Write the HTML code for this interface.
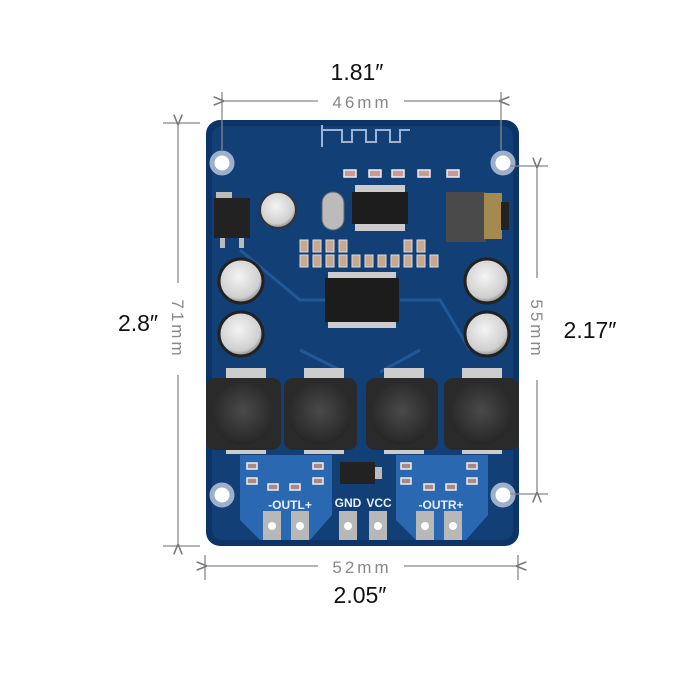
<!DOCTYPE html>
<html><head><meta charset="utf-8"><style>
html,body{margin:0;padding:0;background:#fff;width:700px;height:700px;overflow:hidden}
svg{display:block}
.big{font-family:"Liberation Sans",sans-serif;font-size:23px;fill:#111}
.mm{font-family:"Liberation Sans",sans-serif;font-size:17px;fill:#888;letter-spacing:3px}
.w{font-family:"Liberation Sans",sans-serif;font-size:12px;fill:#e8eef8;font-weight:bold}
</style></head><body>
<svg width="700" height="700" viewBox="0 0 700 700" xmlns="http://www.w3.org/2000/svg">
<defs>
<radialGradient id="cap" cx="0.45" cy="0.4" r="0.6"><stop offset="0" stop-color="#f4f4f4"/><stop offset="0.8" stop-color="#cfcfcf"/><stop offset="1" stop-color="#888"/></radialGradient>
<radialGradient id="ind" cx="0.5" cy="0.45" r="0.55"><stop offset="0" stop-color="#4a4a4a"/><stop offset="1" stop-color="#262626"/></radialGradient>
<marker id="ar" viewBox="0 0 10 10" refX="0" refY="5" markerWidth="8" markerHeight="8" orient="auto-start-reverse"><path d="M10,1 L0,5 L10,9" fill="none" stroke="#777" stroke-width="1.5"/></marker>
</defs>
<!-- board -->
<rect x="206" y="120" width="313" height="426" rx="14" fill="#0d3466"/>
<rect x="212" y="126" width="301" height="414" rx="10" fill="#164a86" opacity="0.5"/>
<!-- antenna -->
<path d="M322,125 v22 M322,130 h20 v12 h10 v-12 h14 v12 h10 v-12 h14 v12 h10 v-12 h10" fill="none" stroke="#9fb4d4" stroke-width="2"/>
<!-- traces -->
<g stroke="#2c69b0" stroke-width="3" fill="none" opacity="0.6">
<path d="M240,250 L300,300 L330,300"/><path d="M400,300 L440,300 L470,350"/><path d="M300,350 L340,370"/><path d="M420,350 L380,372"/>
</g>
<!-- holes -->
<g fill="#fff" stroke="#9cb0cc" stroke-width="5">
<circle cx="222" cy="163" r="10"/><circle cx="503" cy="163" r="10"/><circle cx="222" cy="495" r="10"/><circle cx="503" cy="495" r="10"/>
</g>
<!-- regulator -->
<rect x="216" y="192" width="16" height="8" fill="#bbb"/>
<rect x="214" y="198" width="36" height="40" fill="#222"/>
<rect x="220" y="238" width="5" height="10" fill="#bbb"/><rect x="239" y="238" width="5" height="10" fill="#bbb"/>
<!-- cap 470 -->
<circle cx="278" cy="210" r="18" fill="url(#cap)" stroke="#333" stroke-width="2"/>
<!-- crystal -->
<rect x="322" y="192" width="22" height="38" rx="11" fill="#bbb" stroke="#666"/>
<!-- top IC -->
<rect x="355" y="185" width="50" height="8" fill="#ccc"/><rect x="355" y="223" width="50" height="8" fill="#ccc"/>
<rect x="352" y="192" width="56" height="32" fill="#1d1d1d"/>
<g fill="#c99" stroke="#eee" stroke-width="1.5">
<rect x="344" y="170" width="12" height="7"/><rect x="369" y="170" width="12" height="7"/><rect x="392" y="170" width="12" height="7"/><rect x="418" y="170" width="12" height="7"/><rect x="447" y="170" width="12" height="7"/>
</g>
<!-- jack -->
<rect x="446" y="192" width="40" height="50" fill="#4a4a4a"/>
<rect x="484" y="193" width="18" height="46" fill="#a58a50"/>
<rect x="501" y="202" width="8" height="28" fill="#222"/>
<!-- resistor row -->
<g fill="#c8a890" stroke="#ddd" stroke-width="1">
<rect x="300" y="255" width="8" height="12"/><rect x="313" y="255" width="8" height="12"/><rect x="326" y="255" width="8" height="12"/><rect x="339" y="255" width="8" height="12"/><rect x="352" y="255" width="8" height="12"/><rect x="365" y="255" width="8" height="12"/><rect x="378" y="255" width="8" height="12"/><rect x="391" y="255" width="8" height="12"/><rect x="404" y="255" width="8" height="12"/><rect x="417" y="255" width="8" height="12"/><rect x="430" y="255" width="8" height="12"/>
<rect x="300" y="240" width="8" height="12"/><rect x="313" y="240" width="8" height="12"/><rect x="326" y="240" width="8" height="12"/><rect x="339" y="240" width="8" height="12"/><rect x="404" y="240" width="8" height="12"/><rect x="417" y="240" width="8" height="12"/>
</g>
<!-- 220 caps -->
<g stroke="#222" stroke-width="3" fill="url(#cap)">
<circle cx="241" cy="281" r="22"/><circle cx="241" cy="334" r="22"/><circle cx="487" cy="281" r="22"/><circle cx="487" cy="334" r="22"/>
</g>
<!-- main IC -->
<rect x="328" y="272" width="68" height="56" fill="#ccc"/>
<rect x="325" y="278" width="74" height="44" fill="#1c1c1c"/>
<!-- inductors -->
<g>
<rect x="226" y="368" width="40" height="10" fill="#ccc"/><rect x="304" y="368" width="40" height="10" fill="#ccc"/><rect x="384" y="368" width="40" height="10" fill="#ccc"/><rect x="462" y="368" width="40" height="10" fill="#ccc"/>
<rect x="206" y="378" width="75" height="72" rx="9" fill="#2a2a2a"/><circle cx="243" cy="414" r="31" fill="url(#ind)"/>
<rect x="284" y="378" width="73" height="72" rx="9" fill="#2a2a2a"/><circle cx="320" cy="414" r="31" fill="url(#ind)"/>
<rect x="366" y="378" width="72" height="72" rx="9" fill="#2a2a2a"/><circle cx="402" cy="414" r="31" fill="url(#ind)"/>
<rect x="444" y="378" width="75" height="72" rx="9" fill="#2a2a2a"/><circle cx="481" cy="414" r="31" fill="url(#ind)"/>
<rect x="226" y="450" width="40" height="4" fill="#ccc"/><rect x="304" y="450" width="40" height="4" fill="#ccc"/><rect x="384" y="450" width="40" height="4" fill="#ccc"/><rect x="462" y="450" width="40" height="4" fill="#ccc"/>
</g>
<path d="M240,455 h92 v60 l-22,25 h-50 l-20,-20 z" fill="#2a68b2"/>
<path d="M396,455 h92 v60 l-22,25 h-50 l-20,-20 z" fill="#2a68b2"/>
<rect x="340" y="462" width="35" height="22" fill="#222"/><rect x="375" y="467" width="7" height="12" fill="#bbb"/>
<g fill="#a88" stroke="#eee" stroke-width="1.5">
<rect x="247" y="463" width="10" height="6"/><rect x="247" y="478" width="10" height="6"/><rect x="268" y="484" width="10" height="6"/><rect x="290" y="484" width="10" height="6"/><rect x="313" y="463" width="10" height="6"/><rect x="313" y="478" width="10" height="6"/>
<rect x="401" y="463" width="10" height="6"/><rect x="401" y="478" width="10" height="6"/><rect x="424" y="484" width="10" height="6"/><rect x="446" y="484" width="10" height="6"/><rect x="467" y="463" width="10" height="6"/><rect x="467" y="478" width="10" height="6"/>
</g>
<text class="w" x="290" y="509" text-anchor="middle">-OUTL+</text>
<text class="w" x="348" y="507" text-anchor="middle">GND</text>
<text class="w" x="379" y="507" text-anchor="middle">VCC</text>
<text class="w" x="441" y="509" text-anchor="middle">-OUTR+</text>
<g fill="#b8b8b8"><rect x="263" y="511" width="18" height="29"/><rect x="291" y="511" width="18" height="29"/><rect x="339" y="511" width="18" height="29"/><rect x="369" y="511" width="18" height="29"/><rect x="416" y="511" width="18" height="29"/><rect x="444" y="511" width="18" height="29"/></g>
<g fill="#fff"><circle cx="272" cy="526" r="4"/><circle cx="300" cy="526" r="4"/><circle cx="348" cy="526" r="4"/><circle cx="378" cy="526" r="4"/><circle cx="425" cy="526" r="4"/><circle cx="453" cy="526" r="4"/></g>
<g stroke="#888" stroke-width="1.3" fill="none">
<line x1="222" y1="92" x2="222" y2="150"/><line x1="501" y1="92" x2="501" y2="150"/>
<line x1="224" y1="101" x2="318" y2="101" marker-start="url(#ar)"/><line x1="404" y1="101" x2="499" y2="101" marker-end="url(#ar)"/>
<line x1="163" y1="123" x2="200" y2="123"/><line x1="163" y1="546" x2="200" y2="546"/>
<line x1="178" y1="125" x2="178" y2="283" marker-start="url(#ar)"/><line x1="178" y1="375" x2="178" y2="544" marker-end="url(#ar)"/>
<line x1="510" y1="166" x2="548" y2="166"/><line x1="510" y1="494" x2="548" y2="494"/>
<line x1="537" y1="168" x2="537" y2="278" marker-start="url(#ar)"/><line x1="537" y1="380" x2="537" y2="492" marker-end="url(#ar)"/>
<line x1="205" y1="555" x2="205" y2="580"/><line x1="518" y1="555" x2="518" y2="580"/>
<line x1="207" y1="566" x2="318" y2="566" marker-start="url(#ar)"/><line x1="404" y1="566" x2="516" y2="566" marker-end="url(#ar)"/>
</g>
<text class="big" x="357" y="80" text-anchor="middle">1.81″</text>
<text class="mm" x="362" y="108" text-anchor="middle">46mm</text>
<text class="big" x="138" y="331" text-anchor="middle">2.8″</text>
<text class="mm" transform="translate(172,329) rotate(90)" text-anchor="middle">71mm</text>
<text class="big" x="590" y="338" text-anchor="middle">2.17″</text>
<text class="mm" transform="translate(531,329) rotate(90)" text-anchor="middle">55mm</text>
<text class="mm" x="362" y="573" text-anchor="middle">52mm</text>
<text class="big" x="360" y="603" text-anchor="middle">2.05″</text>
</svg>
</body></html>
